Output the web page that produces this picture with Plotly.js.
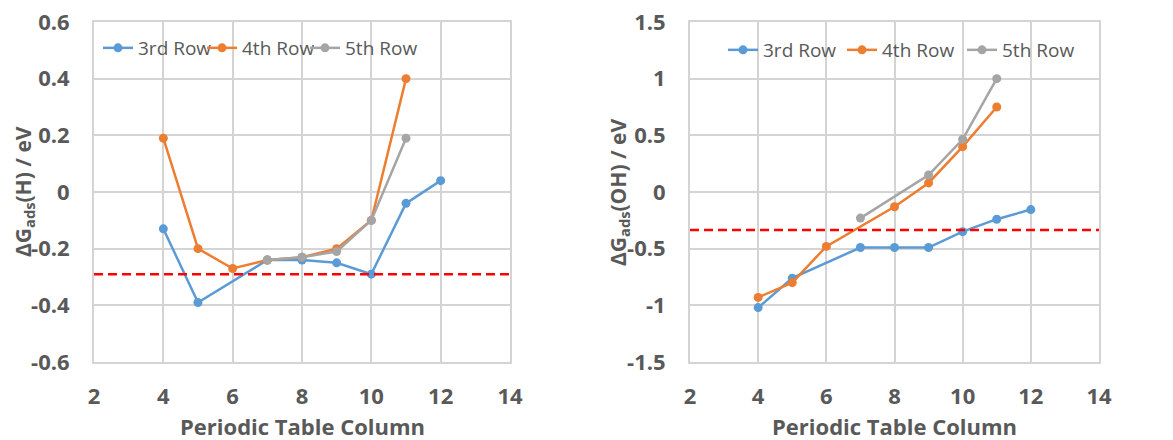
<!DOCTYPE html>
<html><head><meta charset="utf-8">
<script src="https://cdn.plot.ly/plotly-3.0.1.min.js"></script>
<style>html,body{margin:0;padding:0;background:#fff}#chart{width:1173px;height:440px}</style>
</head><body><div id="chart"></div>
<script>
// Periodic table columns
const columns = [4, 5, 6, 7, 8, 9, 10, 11, 12];
// ΔG_ads(H) / eV  (null = no point)
const h3rd = [-0.13, -0.39, null, -0.24, -0.24, -0.25, -0.29, -0.04, 0.04];
const h4th = [0.19, -0.20, -0.27, -0.24, -0.23, -0.20, -0.10, 0.40, null];
const h5th = [null, null, null, -0.24, -0.23, -0.21, -0.10, 0.19, null];
const hRef = -0.29;
// ΔG_ads(OH) / eV
const oh3rd = [-1.02, -0.76, null, -0.49, -0.49, -0.49, -0.35, -0.24, -0.155];
const oh4th = [-0.93, -0.80, -0.48, null, -0.13, 0.08, 0.40, 0.75, null];
const oh5th = [null, null, null, -0.23, null, 0.15, 0.465, 1.00, null];
const ohRef = -0.335;
// ticks
const xTicks = [2, 4, 6, 8, 10, 12, 14];
const hTickVals = [-0.6, -0.4, -0.2, 0, 0.2, 0.4, 0.6];
const hTickText = ['-0.6', '-0.4', '-0.2', '0', '0.2', '0.4', '0.6'];
const ohTickVals = [-1.5, -1, -0.5, 0, 0.5, 1, 1.5];
const ohTickText = ['-1.5', '-1', '-0.5', '0', '0.5', '1', '1.5'];
const seriesNames = ['3rd Row', '4th Row', '5th Row'];
const colors = ['#5b9bd5', '#ed7d31', '#a5a5a5'];
const xTitle = 'Periodic Table Column';
const yTitleH = 'ΔG<sub>ads</sub>(H) / eV';
const yTitleOH = 'ΔG<sub>ads</sub>(OH) / eV';

const FONT = 'Open Sans, Noto Sans, sans-serif';
const TXT = '#595959';
const GRID = '#d4d4d4';

function tr(y, i, xa, ya, lg) {
  return {x: columns, y: y, type: 'scatter', mode: 'lines+markers', name: seriesNames[i],
    connectgaps: true, xaxis: xa, yaxis: ya, legend: lg, showlegend: true,
    line: {color: colors[i], width: 2.5}, marker: {color: colors[i], size: 9}};
}
const data = [
  tr(h3rd, 0, 'x', 'y', 'legend'), tr(h4th, 1, 'x', 'y', 'legend2'), tr(h5th, 2, 'x', 'y', 'legend3'),
  tr(oh3rd, 0, 'x2', 'y2', 'legend4'), tr(oh4th, 1, 'x2', 'y2', 'legend5'), tr(oh5th, 2, 'x2', 'y2', 'legend6')
];

function xax(dom, anchor) {
  return {domain: dom, anchor: anchor, range: [2, 14], tickvals: xTicks, showgrid: true, gridcolor: GRID, gridwidth: 2,
    zeroline: false, showline: true, mirror: true, linecolor: GRID, linewidth: 2,
    ticks: 'outside', ticklen: 14, tickcolor: 'rgba(0,0,0,0)',
    tickfont: {family: FONT, size: 22, color: TXT, weight: 'bold'}};
}
function yax(dom, anchor, rng, tv, tt) {
  return {domain: dom, anchor: anchor, range: rng, tickvals: tv, ticktext: tt, showgrid: true, gridcolor: GRID, gridwidth: 2,
    zeroline: false, showline: true, mirror: true, linecolor: GRID, linewidth: 2,
    ticks: 'outside', ticklen: 18, tickcolor: 'rgba(0,0,0,0)',
    tickfont: {family: FONT, size: 22, color: TXT, weight: 'bold'}};
}
function lg(xpx, ypx) {
  return {orientation: 'h', x: xpx/1173, y: 1 - ypx/440, xanchor: 'left', yanchor: 'top', bgcolor: 'rgba(255,255,255,0)',
    font: {family: FONT, size: 19, color: TXT}, itemwidth: 30};
}
const yDom = [1 - 362/440, 1 - 22/440];
const titleFont = {family: FONT, size: 21, color: TXT, weight: 'bold'};
const xTitleFont = {family: FONT, size: 22, color: TXT, weight: 'bold'};
const layout = {
  width: 1173, height: 440, margin: {l: 0, r: 0, t: 0, b: 0}, paper_bgcolor: '#fff', plot_bgcolor: '#fff',
  showlegend: true,
  xaxis: xax([94/1173, 510/1173], 'y'),
  yaxis: yax(yDom, 'x', [-0.6, 0.6], hTickVals, hTickText),
  xaxis2: xax([690/1173, 1099/1173], 'y2'),
  yaxis2: yax(yDom, 'x2', [-1.5, 1.5], ohTickVals, ohTickText),
  legend: lg(98, 29), legend2: lg(202, 29), legend3: lg(305, 29),
  legend4: lg(723, 31), legend5: lg(842, 31), legend6: lg(962, 31),
  annotations: [
    {text: yTitleH, xref: 'paper', yref: 'paper', x: 24/1173, y: 1 - 192/440, xanchor: 'center', yanchor: 'middle',
      textangle: -90, showarrow: false, font: titleFont},
    {text: yTitleOH, xref: 'paper', yref: 'paper', x: 619/1173, y: 1 - 192/440, xanchor: 'center', yanchor: 'middle',
      textangle: -90, showarrow: false, font: titleFont},
    {text: xTitle, xref: 'x domain', yref: 'paper', x: 0.5, y: 1 - 426/440, xanchor: 'center', yanchor: 'middle',
      showarrow: false, font: xTitleFont},
    {text: xTitle, xref: 'x2 domain', yref: 'paper', x: 0.5, y: 1 - 426/440, xanchor: 'center', yanchor: 'middle',
      showarrow: false, font: xTitleFont}
  ],
  shapes: [
    {type: 'line', xref: 'x domain', yref: 'y', x0: 0, x1: 1, y0: hRef, y1: hRef, line: {color: '#ff0000', width: 2.5, dash: '9px,5px'}},
    {type: 'line', xref: 'x2 domain', yref: 'y2', x0: 0, x1: 1, y0: ohRef, y1: ohRef, line: {color: '#ff0000', width: 2.5, dash: '9px,5px'}}
  ]
};
Plotly.newPlot('chart', data, layout, {displayModeBar: false, staticPlot: true});
</script></body></html>
